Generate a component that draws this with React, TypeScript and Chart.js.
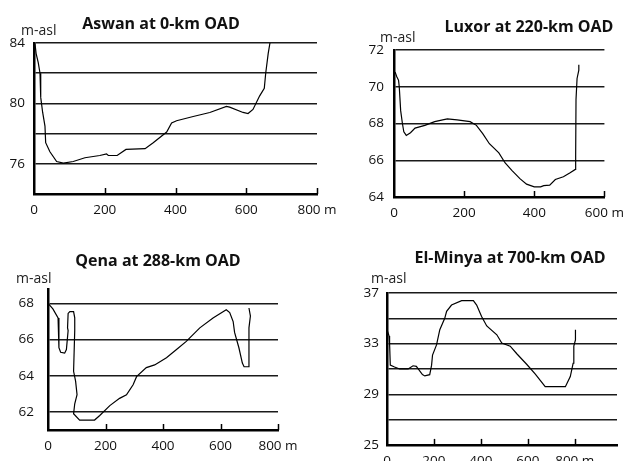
import React, { useEffect, useRef } from 'react';
import { Chart, registerables } from 'chart.js';
Chart.register(...registerables);

const FONT = '"Open Sans", "DejaVu Sans", sans-serif';

// ---- Aswan at 0-km OAD ----
const aswanDistance = [2, 3, 6, 12, 17, 19, 24.5, 31, 33, 45, 64, 83, 111, 144, 186, 205, 210, 235, 260, 314, 337, 375, 389, 403, 450, 497, 544, 553, 591, 605, 619, 638, 651, 655, 662, 667];
const aswanLevel = [84, 83.9, 83.3, 82.7, 82.0, 80.4, 79.4, 78.5, 77.4, 76.8, 76.15, 76.05, 76.15, 76.4, 76.55, 76.66, 76.55, 76.55, 76.95, 77.0, 77.4, 78.1, 78.7, 78.85, 79.13, 79.4, 79.8, 79.75, 79.4, 79.33, 79.6, 80.5, 81.0, 82.0, 83.3, 84];
const aswanXTicks = [0, 200, 400, 600, 800];
const aswanYTicks = [74, 76, 78, 80, 82, 84];
const aswanYLabels = [76, 80, 84];

// ---- Luxor at 220-km OAD ----
const luxorDistance = [3, 8, 13, 15, 19, 24, 28, 35, 47, 60, 88, 116, 152, 180, 217, 235, 253, 272, 299, 317, 336, 359, 378, 400, 418, 427, 444, 460, 483, 501, 517, 518, 519, 522, 527, 527];
const luxorLevel = [70.8, 70.55, 70.35, 70.0, 68.7, 68.0, 67.55, 67.35, 67.5, 67.75, 67.9, 68.1, 68.25, 68.2, 68.1, 67.9, 67.45, 66.9, 66.4, 65.85, 65.45, 65.0, 64.7, 64.55, 64.55, 64.62, 64.65, 64.95, 65.1, 65.3, 65.5, 66.2, 69.3, 70.45, 70.9, 71.2];
const luxorXTicks = [0, 200, 400, 600];
const luxorYTicks = [64, 66, 68, 70, 72];
const luxorYLabels = [64, 66, 68, 70, 72];

// ---- Qena at 288-km OAD ----
const qenaDistance = [0, 17, 35, 38, 38, 44, 58, 64, 70, 68, 70, 76, 89, 93, 93, 89, 96, 101, 93, 89, 110, 162, 180, 215, 249, 273, 296, 308, 342, 371, 412, 447, 481, 528, 574, 620, 632, 644, 649, 664, 676, 682, 696, 699, 699, 704, 699];
const qenaLevel = [68.0, 67.7, 67.2, 66.5, 65.55, 65.3, 65.25, 65.45, 66.5, 66.65, 67.45, 67.55, 67.55, 67.2, 66.5, 64.25, 63.7, 62.95, 62.45, 61.9, 61.55, 61.55, 61.8, 62.35, 62.75, 62.95, 63.5, 63.95, 64.45, 64.6, 65.0, 65.45, 65.9, 66.65, 67.2, 67.65, 67.5, 67.0, 66.4, 65.55, 64.7, 64.5, 64.5, 64.9, 66.65, 67.3, 67.75];
const qenaXTicks = [0, 200, 400, 600, 800];
const qenaYTicks = [62, 64, 66, 68];
const qenaYLabels = [62, 64, 66, 68];

// ---- El-Minya at 700-km OAD ----
const minyaDistance = [0, 9, 11, 14, 32, 54, 90, 111, 125, 151, 161, 182, 190, 194, 211, 225, 246, 254, 275, 318, 368, 382, 403, 425, 468, 489, 525, 553, 596, 632, 674, 760, 781, 793, 796, 803, 803];
const minyaLevel = [34.1, 33.6, 33.0, 31.3, 31.15, 31.0, 31.0, 31.25, 31.2, 30.55, 30.45, 30.55, 31.3, 32.1, 32.9, 34.1, 35.0, 35.55, 36.05, 36.4, 36.4, 36.05, 35.15, 34.4, 33.7, 33.05, 32.8, 32.2, 31.35, 30.6, 29.6, 29.6, 30.4, 31.45, 32.8, 33.3, 34.1];
const minyaXTicks = [0, 200, 400, 600, 800];
const minyaYTicks = [25, 27, 29, 31, 33, 35, 37];
const minyaYLabels = [25, 29, 33, 37];

type PanelDef = {
  title: string;
  titleX: number; titleY: number;
  unitX: number; unitY: number;
  canvas: { left: number; top: number; width: number; height: number };
  area: { left: number; top: number; right: number; bottom: number };
  yPad: number;
  xMin: number; xMax: number; xTicks: number[];
  yMin: number; yMax: number; yTicks: number[]; yLabels: number[];
  xs: number[]; ys: number[];
};

const panels: PanelDef[] = [
  {
    title: 'Aswan at 0-km OAD', titleX: 161, titleY: 23, unitX: 21, unitY: 30,
    canvas: { left: 0, top: 0, width: 345, height: 228 },
    area: { left: 34, top: 43, right: 317, bottom: 194 }, yPad: 9,
    xMin: 0, xMax: 800, xTicks: aswanXTicks,
    yMin: 74, yMax: 84, yTicks: aswanYTicks, yLabels: aswanYLabels,
    xs: aswanDistance, ys: aswanLevel,
  },
  {
    title: 'Luxor at 220-km OAD', titleX: 529, titleY: 26, unitX: 380, unitY: 37,
    canvas: { left: 330, top: 0, width: 302, height: 228 },
    area: { left: 394, top: 50, right: 612, bottom: 197 }, yPad: 10,
    xMin: 0, xMax: 600, xTicks: luxorXTicks,
    yMin: 64, yMax: 72, yTicks: luxorYTicks, yLabels: luxorYLabels,
    xs: luxorDistance, ys: luxorLevel,
  },
  {
    title: 'Qena at 288-km OAD', titleX: 158, titleY: 260, unitX: 16, unitY: 278,
    canvas: { left: 0, top: 232, width: 330, height: 229 },
    area: { left: 48, top: 289, right: 278, bottom: 430 }, yPad: 14,
    xMin: 0, xMax: 800, xTicks: qenaXTicks,
    yMin: 61, yMax: 68.8, yTicks: qenaYTicks, yLabels: qenaYLabels,
    xs: qenaDistance, ys: qenaLevel,
  },
  {
    title: 'El-Minya at 700-km OAD', titleX: 510, titleY: 257, unitX: 371, unitY: 278,
    canvas: { left: 330, top: 232, width: 302, height: 229 },
    area: { left: 387, top: 293, right: 617, bottom: 445 }, yPad: 8,
    xMin: 0, xMax: 980, xTicks: minyaXTicks,
    yMin: 25, yMax: 37, yTicks: minyaYTicks, yLabels: minyaYLabels,
    xs: minyaDistance, ys: minyaLevel,
  },
];

const innerTicks = {
  id: 'innerTicks',
  afterDatasetsDraw(chart: any, _args: any, opts: any) {
    const xs = chart.scales.x;
    const ctx = chart.ctx;
    const bottom = chart.chartArea.bottom;
    ctx.save();
    ctx.strokeStyle = '#000';
    ctx.lineWidth = 1.5;
    (opts.values || []).forEach((v: number) => {
      if (v === 0) return;
      const px = Math.round(xs.getPixelForValue(v)) + 0.5;
      ctx.beginPath();
      ctx.moveTo(px, bottom);
      ctx.lineTo(px, bottom - 6);
      ctx.stroke();
    });
    ctx.restore();
  },
};

function Panel({ p }: { p: PanelDef }) {
  const ref = useRef<HTMLCanvasElement | null>(null);
  useEffect(() => {
    if (!ref.current) return;
    const c = p.canvas;
    const a = p.area;
    const last = p.xTicks[p.xTicks.length - 1];
    const chart = new Chart(ref.current, {
      type: 'scatter',
      data: {
        datasets: [
          {
            data: p.xs.map((x, i) => ({ x, y: p.ys[i] })),
            showLine: true,
            borderColor: '#000',
            borderWidth: 1.2,
            pointRadius: 0,
            tension: 0,
          },
        ],
      },
      options: {
        animation: false,
        responsive: false,
        events: [],
        layout: {
          autoPadding: false,
          padding: { left: 0, top: a.top - c.top, right: c.left + c.width - a.right, bottom: 0 },
        },
        plugins: {
          legend: { display: false },
          tooltip: { enabled: false },
          title: { display: false },
          innerTicks: { values: p.xTicks },
        } as any,
        scales: {
          x: {
            type: 'linear',
            min: p.xMin,
            max: p.xMax,
            afterBuildTicks: (s: any) => { s.ticks = p.xTicks.map((v) => ({ value: v })); },
            afterFit: (s: any) => { s.height = c.top + c.height - a.bottom; },
            grid: { drawOnChartArea: false, drawTicks: false },
            border: { display: true, color: '#000', width: 2.5 },
            ticks: {
              padding: 8,
              color: '#111',
              font: { family: FONT, size: 13.5 },
              maxRotation: 0,
              autoSkip: false,
              callback: (v: any) => (v === last ? `${v} m` : String(v)),
            },
          },
          y: {
            type: 'linear',
            min: p.yMin,
            max: p.yMax,
            afterBuildTicks: (s: any) => { s.ticks = p.yTicks.map((v) => ({ value: v })); },
            afterFit: (s: any) => { s.width = a.left - c.left; },
            grid: { color: '#1a1a1a', lineWidth: 1.5, drawTicks: false },
            border: { display: true, color: '#000', width: 2.5 },
            ticks: {
              padding: p.yPad,
              color: '#111',
              font: { family: FONT, size: 13.5 },
              autoSkip: false,
              callback: (v: any) => (p.yLabels.includes(v) ? String(v) : ''),
            },
          },
        },
      },
      plugins: [innerTicks],
    } as any);
    return () => chart.destroy();
  }, [p]);

  return (
    <>
      <canvas
        ref={ref}
        width={p.canvas.width}
        height={p.canvas.height}
        style={{ position: 'absolute', left: p.canvas.left, top: p.canvas.top, width: p.canvas.width, height: p.canvas.height }}
      />
      <div
        style={{
          position: 'absolute', left: p.titleX, top: p.titleY, transform: 'translate(-50%, -50%)',
          fontFamily: FONT, fontWeight: 700, fontSize: 16, color: '#111', whiteSpace: 'nowrap', lineHeight: 1,
        }}
      >
        {p.title}
      </div>
      <div
        style={{
          position: 'absolute', left: p.unitX, top: p.unitY, transform: 'translateY(-50%)',
          fontFamily: FONT, fontSize: 14, color: '#222', whiteSpace: 'nowrap', lineHeight: 1,
        }}
      >
        m-asl
      </div>
    </>
  );
}

export default function App() {
  return (
    <div style={{ position: 'absolute', left: 0, top: 0, width: 632, height: 461, background: '#fff', overflow: 'hidden' }}>
      {panels.map((p) => (
        <Panel key={p.title} p={p} />
      ))}
    </div>
  );
}
